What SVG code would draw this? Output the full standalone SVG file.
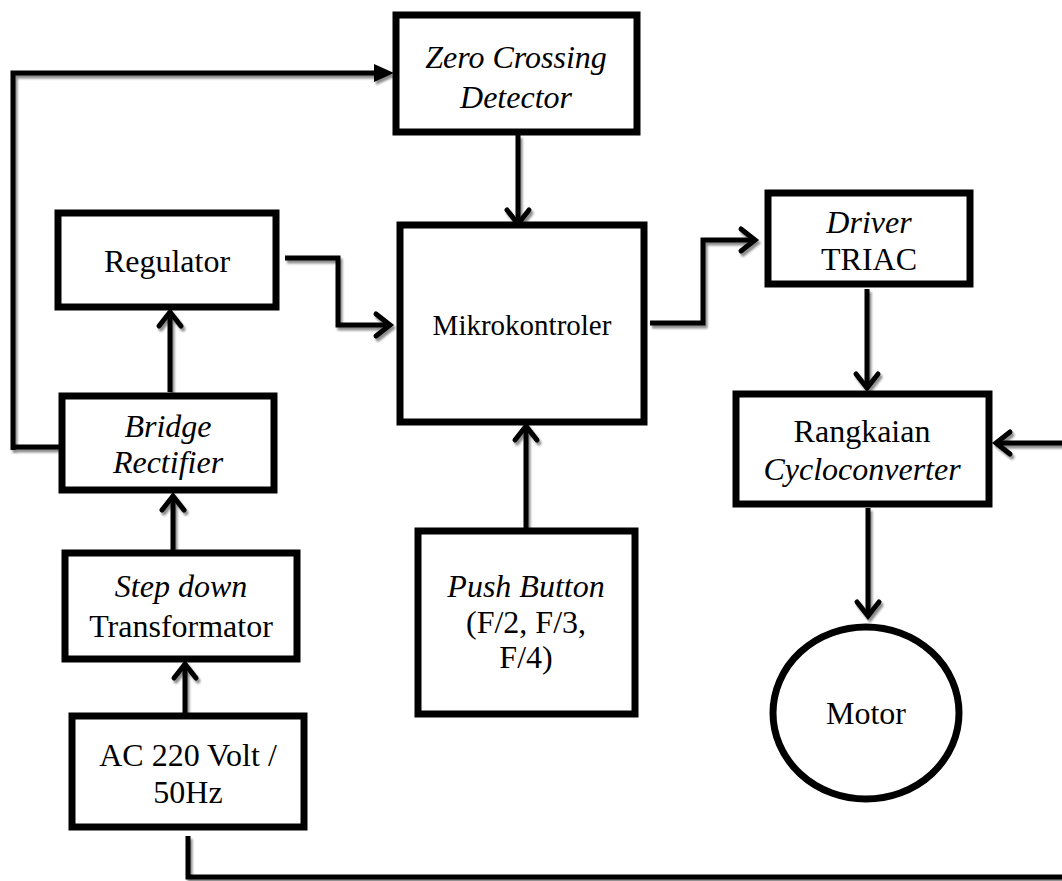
<svg xmlns="http://www.w3.org/2000/svg" width="1062" height="881" viewBox="0 0 1062 881">
<style>
.box{fill:#fff;stroke:#000;stroke-width:7}
.ln{fill:none;stroke:#000;stroke-width:5;stroke-linejoin:miter}
.chev{fill:none;stroke:#000;stroke-width:5;stroke-linecap:round;stroke-linejoin:miter}
text{font-family:"Liberation Serif","Times New Roman",serif;font-size:32px;fill:#000;text-anchor:middle}
.it{font-style:italic}
</style>
<defs>
<filter id="sh" x="-10%" y="-10%" width="120%" height="120%">
<feDropShadow dx="2" dy="3" stdDeviation="1.2" flood-color="#000" flood-opacity="0.45"/>
</filter>
</defs>
<g id="connectors" filter="url(#sh)">
<path class="ln" d="M13,450 V73 H378"/>
<polygon points="374,64 394,73 374,82" fill="#000"/>
<path class="ln" d="M59,447 H13"/>
<path class="ln" d="M518,135 V224"/>
<path class="chev" d="M507,210 L518,224 L529,210"/>
<path class="ln" d="M285,258 H338 V325 H390"/>
<path class="chev" d="M376,314 L390,325 L376,336"/>
<path class="ln" d="M650,323 H703 V240 H755"/>
<path class="chev" d="M741,229 L755,240 L741,251"/>
<path class="ln" d="M867,289 V388"/>
<path class="chev" d="M856,374 L867,388 L878,374"/>
<path class="ln" d="M1062,443 H996"/>
<path class="chev" d="M1010,432 L996,443 L1010,454"/>
<path class="ln" d="M868,508 V616"/>
<path class="chev" d="M857,602 L868,616 L879,602"/>
<path class="ln" d="M526,528 V428"/>
<path class="chev" d="M515,440 L526,426 L537,440"/>
<path class="ln" d="M170,392 V312"/>
<path class="chev" d="M159,326 L170,312 L181,326"/>
<path class="ln" d="M173,552 V496"/>
<path class="chev" d="M162,510 L173,496 L184,510"/>
<path class="ln" d="M185,713 V664"/>
<path class="chev" d="M174,678 L185,664 L196,678"/>
<path class="ln" d="M188,836 V877 H1062"/>
</g>
<g id="zcd">
<rect class="box" x="396" y="15" width="241" height="117"/>
<text class="it" x="516" y="68">Zero Crossing</text>
<text class="it" x="516" y="108">Detector</text>
</g>
<g id="regulator">
<rect class="box" x="58" y="213" width="218" height="94"/>
<text x="167" y="272">Regulator</text>
</g>
<g id="mikrokontroler">
<rect class="box" x="400" y="225" width="244" height="197"/>
<text x="522" y="335" style="font-size:29px">Mikrokontroler</text>
</g>
<g id="driver">
<rect class="box" x="768" y="193" width="202" height="91"/>
<text class="it" x="869" y="233">Driver</text>
<text x="869" y="270">TRIAC</text>
</g>
<g id="bridge">
<rect class="box" x="62" y="396" width="212" height="94"/>
<text class="it" x="168" y="437">Bridge</text>
<text class="it" x="168" y="473">Rectifier</text>
</g>
<g id="rangkaian">
<rect class="box" x="736" y="394" width="253" height="110"/>
<text x="862" y="442">Rangkaian</text>
<text class="it" x="862" y="480">Cycloconverter</text>
</g>
<g id="stepdown">
<rect class="box" x="65" y="553" width="232" height="106"/>
<text class="it" x="181" y="597">Step down</text>
<text x="181" y="637">Transformator</text>
</g>
<g id="pushbutton">
<rect class="box" x="418" y="531" width="217" height="183"/>
<text class="it" x="526" y="597">Push Button</text>
<text x="526" y="633">(F/2, F/3,</text>
<text x="526" y="668">F/4)</text>
</g>
<g id="motor">
<ellipse cx="866" cy="713" rx="93" ry="86" fill="#fff" stroke="#000" stroke-width="7"/>
<text x="866" y="724">Motor</text>
</g>
<g id="ac">
<rect class="box" x="72" y="716" width="232" height="111"/>
<text x="188" y="766">AC 220 Volt /</text>
<text x="188" y="803">50Hz</text>
</g>
</svg>
